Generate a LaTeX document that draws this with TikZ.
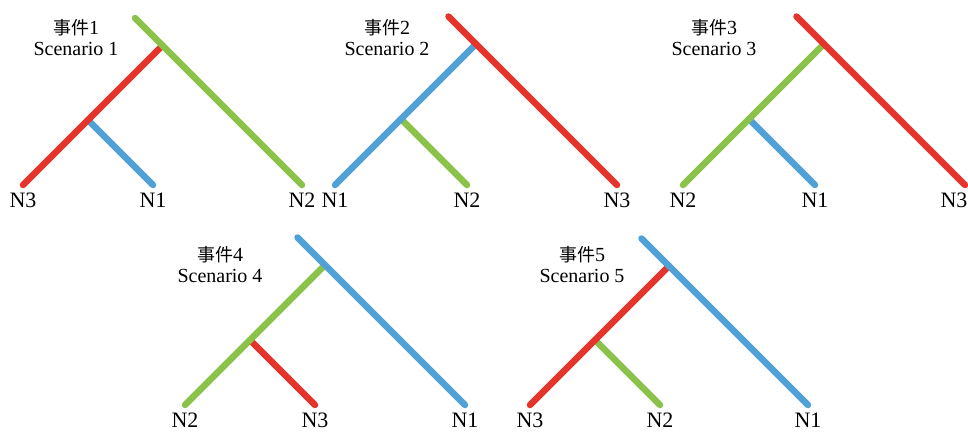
\documentclass[tikz,border=0pt]{standalone}
\usepackage{fontspec}
\setmainfont{Liberation Serif}
\newfontfamily\cjk[Scale=0.9]{Noto Sans CJK SC}
\definecolor{colN1}{RGB}{80,162,214}
\definecolor{colN2}{RGB}{139,195,74}
\definecolor{colN3}{RGB}{228,52,44}
\tikzset{
  branch/.style={line width=6.5pt, line cap=round},
  leaf/.style={font=\fontsize{22}{22}\selectfont, inner sep=0pt},
  title/.style={font=\fontsize{20}{21}\selectfont, align=center, inner sep=0pt},
}
\begin{document}
\begin{tikzpicture}[x=1pt,y=-1pt]
  \useasboundingbox (0,0) rectangle (968,431);
  % tree / leaf x / bottom y / leaf labels / title / shift of last label
  \foreach \i/\a/\b/\c/\y/\la/\lb/\lc/\tx/\ty/\dx in {
      1/23/153/302/185/3/1/2/76/38/0,
      2/335/467/617/185/1/2/3/387/38/0,
      3/683/815/965/185/2/1/3/714/38/-11,
      4/185/315/465/405/2/3/1/220/265/0,
      5/530/660/808/405/3/2/1/582/265/0}{
    \coordinate (L\i_a) at (\a, \y);
    \coordinate (L\i_b) at (\b, \y);
    \coordinate (L\i_c) at (\c, \y);
    \coordinate (J\i_1) at ({(\a+\b)/2}, {\y-(\b-\a)/2});
    \coordinate (J\i_2) at ({(\a+\c)/2}, {\y-(\c-\a)/2});
    \coordinate (T\i) at ({(\a+\c)/2-27.5}, {\y-(\c-\a)/2-27.5});
    \draw[branch, color=colN\lb] (L\i_b) -- (J\i_1);
    \draw[branch, color=colN\la] (L\i_a) -- (J\i_2);
    \draw[branch, color=colN\lc] (T\i) -- (L\i_c);
    \node[leaf] (N\i_a) at (\a, \y+15) {N\la};
    \node[leaf] (N\i_b) at (\b, \y+15) {N\lb};
    \node[leaf] (N\i_c) at (\c+\dx, \y+15) {N\lc};
    \node[title] (S\i) at (\tx, \ty) {{\cjk 事件}\i\\Scenario \i};
  }
\end{tikzpicture}
\end{document}
